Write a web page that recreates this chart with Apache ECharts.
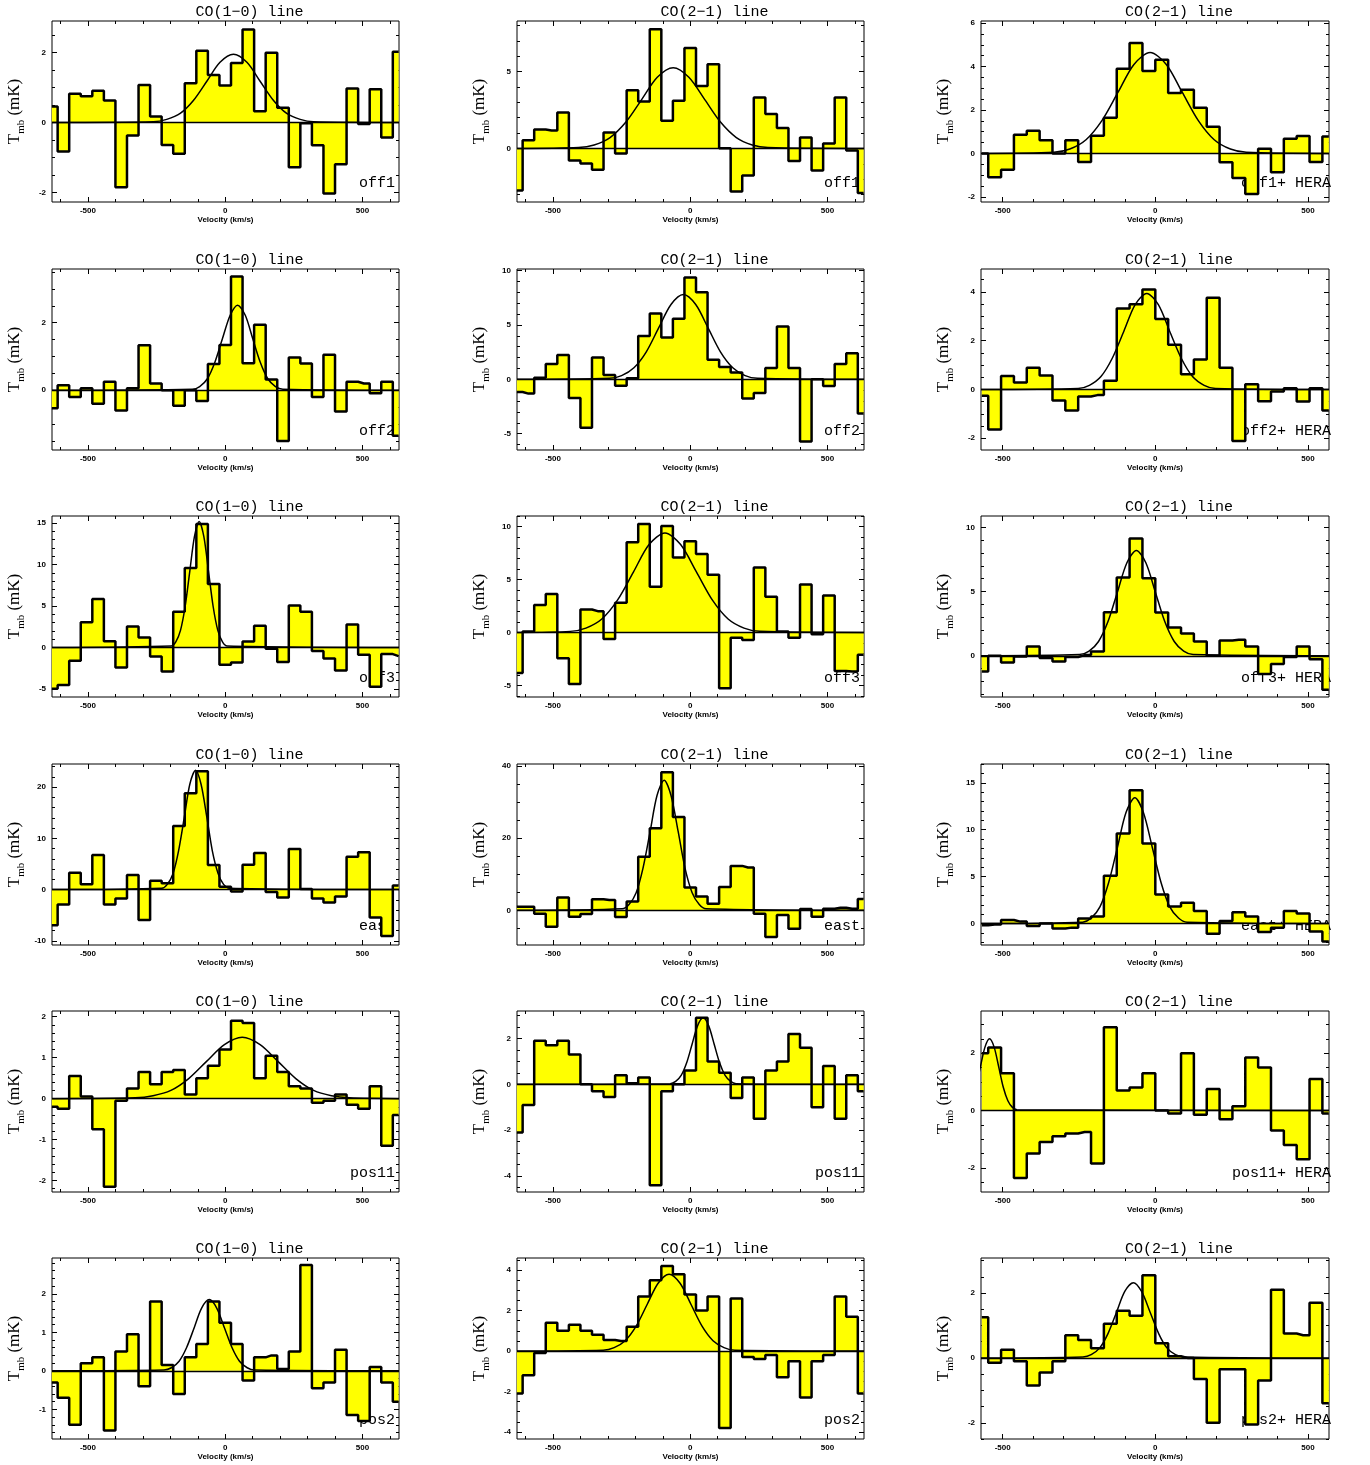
<!DOCTYPE html>
<html>
<head>
<meta charset="utf-8">
<script src="https://cdn.jsdelivr.net/npm/echarts@6/dist/echarts.min.js"></script>
<style>
  html, body { margin: 0; padding: 0; background: #fff; }
  #main { width: 1370px; height: 1465px; }
</style>
</head>
<body>
<div id="main"></div>
<script>
// channel centres (km/s), 42.1 km/s channels
const velCO = [-631.5, -589.4, -547.3, -505.2, -463.1, -421.0, -378.9, -336.8, -294.7, -252.6, -210.5,
  -168.4, -126.3, -84.2, -42.1, 0, 42.1, 84.2, 126.3, 168.4, 210.5, 252.6, 294.7, 336.8, 378.9, 421.0,
  463.1, 505.2, 547.3, 589.4, 631.5];
const velHERA = [-568.4, -526.3, -484.2, -442.1, -400.0, -357.9, -315.8, -273.7, -231.6, -189.5, -147.4,
  -105.3, -63.2, -21.1, 21.1, 63.2, 105.3, 147.4, 189.5, 231.6, 273.7, 315.8, 357.9, 400.0, 442.1, 484.2,
  526.3, 568.4];

const xTickLabels = [-500, 0, 500];

// Tmb (mK) per channel
const off1_10 = [0.46, -0.83, 0.82, 0.75, 0.91, 0.63, -1.85, -0.37, 1.07, 0.17, -0.64, -0.89, 1.12, 2.05, 1.36, 1.06, 1.70, 2.66, 0.32, 1.99, 0.42, -1.28, -0.02, -0.65, -2.03, -1.19, 0.97, -0.04, 0.95, -0.43, 2.02];
const off1_21 = [-2.73, 0.54, 1.23, 1.17, 2.34, -0.78, -0.97, -1.39, 1.04, -0.32, 3.79, 3.05, 7.75, 1.80, 3.10, 6.54, 4.07, 5.48, 0.02, -2.79, -1.75, 3.31, 2.25, 1.34, -0.82, 0.71, -1.43, 0.32, 3.31, -0.13, -2.90];
const off1_hera = [0.0, -1.10, -0.75, 0.86, 1.04, 0.61, 0.0, 0.61, -0.40, 0.81, 1.64, 3.90, 5.09, 3.80, 4.31, 2.78, 2.93, 2.10, 1.23, -0.41, -1.13, -1.87, 0.21, -0.87, 0.67, 0.80, -0.40, 0.78];
const off2_10 = [-0.53, 0.15, -0.20, 0.06, -0.40, 0.25, -0.60, 0.06, 1.33, 0.20, 0.0, -0.46, 0.0, -0.32, 0.78, 1.34, 3.37, 0.80, 1.94, 0.32, -1.50, 0.97, 0.79, -0.20, 1.05, -0.63, 0.25, 0.20, -0.09, 0.25, -1.35];
const off2_21 = [-1.16, -1.31, 0.15, 1.41, 2.23, -1.71, -4.46, 2.02, 0.40, -0.58, 0.09, 3.98, 6.06, 3.85, 5.57, 9.36, 8.01, 1.80, 1.13, 0.64, -1.77, -1.25, 1.04, 4.86, 1.04, -5.72, 0.0, -0.61, 1.41, 2.39, -3.15];
const off2_hera = [-0.26, -1.64, 0.55, 0.29, 0.89, 0.57, -0.45, -0.86, -0.29, -0.23, 0.36, 3.32, 3.50, 4.10, 2.89, 1.83, 0.63, 1.23, 3.76, 0.89, -2.11, 0.22, -0.48, -0.08, 0.05, -0.49, 0.05, -0.86];
const off3_10 = [-4.98, -4.54, -1.61, 3.05, 5.86, 0.76, -2.41, 2.53, 1.20, -1.08, -2.89, 4.30, 9.60, 14.9, 7.67, -2.09, -1.81, 0.72, 2.61, -0.16, -1.77, 5.06, 4.30, -0.44, -1.33, -2.77, 2.77, -0.88, -4.74, -0.80, -1.04];
const off3_21 = [-3.84, 0.09, 2.58, 3.62, -2.45, -4.87, 2.17, 2.01, -0.63, 2.80, 8.52, 10.25, 4.31, 10.06, 7.08, 8.62, 7.42, 5.44, -5.28, -0.50, -0.72, 6.13, 3.36, 0.09, -0.50, 4.53, -0.16, 3.49, -3.65, -3.68, -2.11];
const off3_hera = [-1.22, 0.0, -0.52, -0.05, 0.73, -0.18, -0.44, -0.10, 0.05, 0.34, 3.39, 6.09, 9.12, 6.04, 3.37, 2.20, 1.74, 1.11, 0.0, 1.19, 1.24, 0.73, -1.42, -0.65, -0.10, 0.73, -0.28, -2.64];
const east_10 = [-6.95, -2.92, 3.31, 1.04, 6.75, -2.92, -1.75, 2.86, -5.91, 1.75, 1.23, 12.4, 18.8, 23.1, 4.81, 0.58, -0.39, 4.87, 7.14, -0.45, -1.56, 7.92, 0.1, -1.75, -2.53, -1.36, 6.43, 7.27, -5.45, -9.03, 0.78];
const east_21 = [1.0, 1.0, -0.93, -4.54, 3.52, -1.76, -1.02, 3.06, 2.87, -1.85, 2.41, 14.8, 22.7, 38.2, 25.8, 6.30, 3.80, 1.85, 6.48, 12.3, 11.85, -0.93, -7.41, -1.30, -5.09, 0.37, -1.76, 0.46, 0.74, 0.46, 3.15];
const east_hera = [-0.18, -0.1, 0.39, 0.21, -0.25, 0.0, -0.53, -0.43, 0.53, 0.75, 5.09, 9.61, 14.2, 8.54, 3.10, 1.81, 2.21, 1.35, -1.07, 0.28, 1.21, 0.75, -0.89, -0.43, 1.35, 1.07, -0.85, -1.92];
const pos11_10 = [-0.2, -0.25, 0.55, 0.05, -0.75, -2.15, -0.05, 0.25, 0.65, 0.35, 0.65, 0.7, 0.1, 0.5, 0.8, 1.2, 1.9, 1.85, 0.5, 1.05, 0.65, 0.3, 0.25, -0.1, -0.05, 0.1, -0.15, -0.25, 0.3, -1.15, -0.4];
const pos11_21 = [-2.1, -0.9, 1.9, 1.7, 1.9, 1.3, 0.0, -0.3, -0.55, 0.4, 0.05, 0.3, -4.4, -0.3, 0.0, 0.6, 2.9, 1.0, 0.5, -0.6, 0.3, -1.5, 0.6, 1.0, 2.2, 1.6, -1.0, 0.8, -1.5, 0.4, -0.3];
const pos11_hera = [2.0, 2.2, 1.3, -2.35, -1.5, -1.1, -0.9, -0.8, -0.75, -1.85, 2.9, 0.7, 0.8, 1.3, 0.0, -0.1, 2.0, -0.15, 0.75, -0.3, 0.15, 1.85, 1.5, -0.7, -1.2, -1.7, 1.1, -0.1];
const pos2_10 = [-0.3, -0.7, -1.4, 0.2, 0.35, -1.55, 0.5, 0.95, -0.4, 1.8, 0.15, -0.6, 0.35, 0.7, 1.8, 1.25, 0.7, -0.25, 0.35, 0.4, 0.05, 0.5, 2.75, -0.45, -0.3, 0.55, -1.15, -1.3, 0.1, -0.3, -0.8];
const pos2_21 = [-2.1, -1.2, -0.1, 1.4, 1.0, 1.3, 1.0, 0.8, 0.55, 0.5, 1.2, 2.7, 3.5, 4.2, 3.8, 2.8, 2.0, 2.7, -3.8, 2.6, -0.3, -0.4, -0.2, -1.3, -0.5, -2.3, -0.5, -0.2, 2.7, 1.7, -2.1];
const pos2_hera = [1.25, -0.15, 0.25, -0.1, -0.85, -0.45, -0.1, 0.7, 0.55, 0.3, 1.05, 1.45, 1.3, 2.55, 0.45, 0.05, 0.0, -0.65, -2.0, -0.35, -0.35, -2.05, -0.7, 2.1, 0.75, 0.7, 1.7, -1.4];

// gaussian fits
const fitV_off1_10 = [-261, -213, -164, -116, -67, -19, 30, 79, 127, 176, 224, 273, 321];
const fitT_off1_10 = [0.02, 0.09, 0.26, 0.63, 1.18, 1.72, 1.95, 1.72, 1.18, 0.63, 0.26, 0.09, 0.02];
const fitV_off1_21 = [-407, -350, -292, -235, -177, -120, -62, -5, 53, 111, 168, 226, 283];
const fitT_off1_21 = [0.06, 0.23, 0.71, 1.70, 3.18, 4.63, 5.25, 4.63, 3.18, 1.70, 0.71, 0.23, 0.06];
const fitV_off1_hera = [-332, -280, -227, -175, -122, -70, -17, 36, 88, 141, 193, 246, 298];
const fitT_off1_hera = [0.05, 0.20, 0.63, 1.51, 2.82, 4.10, 4.65, 4.10, 2.82, 1.51, 0.63, 0.20, 0.05];
const fitV_off2_10 = [-120, -93, -65, -38, -10, 18, 45, 73, 100, 128, 155, 183, 210];
const fitT_off2_10 = [0.03, 0.11, 0.34, 0.82, 1.53, 2.22, 2.52, 2.22, 1.53, 0.82, 0.34, 0.11, 0.03];
const fitV_off2_21 = [-295, -250, -205, -160, -115, -70, -25, 20, 65, 110, 155, 200, 245];
const fitT_off2_21 = [0.09, 0.34, 1.06, 2.53, 4.73, 6.88, 7.80, 6.88, 4.73, 2.53, 1.06, 0.34, 0.09];
const fitV_off2_hera = [-253, -216, -178, -141, -103, -66, -28, 10, 47, 85, 122, 160, 197];
const fitT_off2_hera = [0.04, 0.17, 0.53, 1.28, 2.39, 3.48, 3.94, 3.48, 2.39, 1.28, 0.53, 0.17, 0.04];
const fitV_off3_10 = [-197, -180, -163, -146, -129, -112, -95, -78, -61, -44, -27, -10, 7];
const fitT_off3_10 = [0.17, 0.67, 2.06, 4.94, 9.22, 13.41, 15.2, 13.41, 9.22, 4.94, 2.06, 0.67, 0.17];
const fitV_off3_21 = [-437, -380, -322, -265, -207, -150, -92, -35, 23, 81, 138, 196, 253];
const fitT_off3_21 = [0.10, 0.41, 1.27, 3.05, 5.70, 8.30, 9.40, 8.30, 5.70, 3.05, 1.27, 0.41, 0.10];
const fitV_off3_hera = [-248, -217, -186, -155, -124, -93, -62, -31, 0, 31, 62, 93, 124];
const fitT_off3_hera = [0.09, 0.36, 1.11, 2.66, 4.97, 7.24, 8.20, 7.24, 4.97, 2.66, 1.11, 0.36, 0.09];
const fitV_east_10 = [-231, -211, -190, -170, -149, -129, -108, -88, -67, -47, -26, -6, 15];
const fitT_east_10 = [0.26, 1.02, 3.15, 7.57, 14.13, 20.56, 23.3, 20.56, 14.13, 7.57, 3.15, 1.02, 0.26];
const fitV_east_21 = [-248, -223, -197, -172, -146, -121, -95, -70, -44, -19, 7, 33, 58];
const fitT_east_21 = [0.40, 1.58, 4.87, 11.69, 21.83, 31.77, 36.0, 31.77, 21.83, 11.69, 4.87, 1.58, 0.40];
const fitV_east_hera = [-238, -210, -181, -153, -124, -96, -67, -39, -10, 19, 47, 76, 104];
const fitT_east_hera = [0.15, 0.59, 1.81, 4.35, 8.13, 11.83, 13.4, 11.83, 8.13, 4.35, 1.81, 0.59, 0.15];
const fitV_pos11_10 = [-328, -263, -198, -133, -68, -3, 62, 127, 192, 257, 322, 387, 452];
const fitT_pos11_10 = [0.02, 0.07, 0.20, 0.49, 0.91, 1.32, 1.50, 1.32, 0.91, 0.49, 0.20, 0.07, 0.02];
const fitV_pos11_21 = [-73, -53, -33, -13, 7, 27, 47, 67, 87, 107, 127, 147, 167];
const fitT_pos11_21 = [0.03, 0.13, 0.39, 0.94, 1.76, 2.56, 2.90, 2.56, 1.76, 0.94, 0.39, 0.13, 0.03];
const fitV_pos11_hera = [-633, -618, -603, -588, -573, -558, -543, -528, -513, -498, -483, -468, -453];
const fitT_pos11_hera = [0.03, 0.11, 0.34, 0.81, 1.52, 2.21, 2.50, 2.21, 1.52, 0.81, 0.34, 0.11, 0.03];
const fitV_pos2_10 = [-223, -196, -168, -141, -113, -86, -58, -31, -3, 25, 52, 80, 107];
const fitT_pos2_10 = [0.02, 0.08, 0.25, 0.60, 1.12, 1.63, 1.85, 1.63, 1.12, 0.60, 0.25, 0.08, 0.02];
const fitV_pos2_21 = [-317, -277, -237, -197, -157, -117, -77, -37, 3, 43, 83, 123, 163];
const fitT_pos2_21 = [0.04, 0.17, 0.51, 1.23, 2.30, 3.35, 3.80, 3.35, 2.30, 1.23, 0.51, 0.17, 0.04];
const fitV_pos2_hera = [-237, -210, -182, -155, -127, -100, -72, -45, -17, 11, 38, 66, 93];
const fitT_pos2_hera = [0.03, 0.10, 0.31, 0.75, 1.41, 2.05, 2.32, 2.05, 1.41, 0.75, 0.31, 0.10, 0.03];

// y tick labels
const yTicks_off1_10 = [-2, 0, 2];
const yTicks_off1_21 = [0, 5];
const yTicks_off1_hera = [-2, 0, 2, 4, 6];
const yTicks_off2_10 = [0, 2];
const yTicks_off2_21 = [-5, 0, 5, 10];
const yTicks_off2_hera = [-2, 0, 2, 4];
const yTicks_off3_10 = [-5, 0, 5, 10, 15];
const yTicks_off3_21 = [-5, 0, 5, 10];
const yTicks_off3_hera = [0, 5, 10];
const yTicks_east_10 = [-10, 0, 10, 20];
const yTicks_east_21 = [0, 20, 40];
const yTicks_east_hera = [0, 5, 10, 15];
const yTicks_pos11_10 = [-2, -1, 0, 1, 2];
const yTicks_pos11_21 = [-4, -2, 0, 2];
const yTicks_pos11_hera = [-2, 0, 2];
const yTicks_pos2_10 = [-1, 0, 1, 2];
const yTicks_pos2_21 = [-4, -2, 0, 2, 4];
const yTicks_pos2_hera = [-2, 0, 2];

const T10 = 'CO(1\u22120) line', T21 = 'CO(2\u22121) line';
const panels = [
  { title: T10, label: 'off1', data: off1_10, fv: fitV_off1_10, ft: fitT_off1_10, y: [-2.27, 2.9], yt: yTicks_off1_10, ym: 0.5 },
  { title: T21, label: 'off1', data: off1_21, fv: fitV_off1_21, ft: fitT_off1_21, y: [-3.48, 8.29], yt: yTicks_off1_21, ym: 1 },
  { title: T21, label: 'off1+ HERA', data: off1_hera, fv: fitV_off1_hera, ft: fitT_off1_hera, y: [-2.24, 6.1], yt: yTicks_off1_hera, ym: 0.5 },
  { title: T10, label: 'off2', data: off2_10, fv: fitV_off2_10, ft: fitT_off2_10, y: [-1.77, 3.59], yt: yTicks_off2_10, ym: 0.5 },
  { title: T21, label: 'off2', data: off2_21, fv: fitV_off2_21, ft: fitT_off2_21, y: [-6.5, 10.15], yt: yTicks_off2_21, ym: 1 },
  { title: T21, label: 'off2+ HERA', data: off2_hera, fv: fitV_off2_hera, ft: fitT_off2_hera, y: [-2.48, 4.94], yt: yTicks_off2_hera, ym: 0.5 },
  { title: T10, label: 'off3', data: off3_10, fv: fitV_off3_10, ft: fitT_off3_10, y: [-5.98, 15.86], yt: yTicks_off3_10, ym: 1 },
  { title: T21, label: 'off3', data: off3_21, fv: fitV_off3_21, ft: fitT_off3_21, y: [-6.1, 11.0], yt: yTicks_off3_21, ym: 1 },
  { title: T21, label: 'off3+ HERA', data: off3_hera, fv: fitV_off3_hera, ft: fitT_off3_hera, y: [-3.21, 10.88], yt: yTicks_off3_hera, ym: 1 },
  { title: T10, label: 'east', data: east_10, fv: fitV_east_10, ft: fitT_east_10, y: [-10.8, 24.5], yt: yTicks_east_10, ym: 2 },
  { title: T21, label: 'east', data: east_21, fv: fitV_east_21, ft: fitT_east_21, y: [-9.6, 40.5], yt: yTicks_east_21, ym: 5 },
  { title: T21, label: 'east+ HERA', data: east_hera, fv: fitV_east_hera, ft: fitT_east_hera, y: [-2.28, 17.0], yt: yTicks_east_hera, ym: 1 },
  { title: T10, label: 'pos11', data: pos11_10, fv: fitV_pos11_10, ft: fitT_pos11_10, y: [-2.28, 2.14], yt: yTicks_pos11_10, ym: 0.2 },
  { title: T21, label: 'pos11', data: pos11_21, fv: fitV_pos11_21, ft: fitT_pos11_21, y: [-4.7, 3.2], yt: yTicks_pos11_21, ym: 0.5 },
  { title: T21, label: 'pos11+ HERA', data: pos11_hera, fv: fitV_pos11_hera, ft: fitT_pos11_hera, y: [-2.84, 3.47], yt: yTicks_pos11_hera, ym: 0.5 },
  { title: T10, label: 'pos2', data: pos2_10, fv: fitV_pos2_10, ft: fitT_pos2_10, y: [-1.77, 2.93], yt: yTicks_pos2_10, ym: 0.2 },
  { title: T21, label: 'pos2', data: pos2_21, fv: fitV_pos2_21, ft: fitT_pos2_21, y: [-4.35, 4.6], yt: yTicks_pos2_21, ym: 0.5 },
  { title: T21, label: 'pos2+ HERA', data: pos2_hera, fv: fitV_pos2_hera, ft: fitT_pos2_hera, y: [-2.5, 3.08], yt: yTicks_pos2_hera, ym: 0.5 }
];

// layout
const colLeft = [52, 517, 981];
const colWidth = [347, 347, 348];
const rowTop = [21, 269, 516, 764, 1011, 1258];
const plotH = 181;
const xRangeCO = [-631, 633];
const xRangeHERA = [-571, 569];

function steps(a, b, s) {
  const out = [];
  for (let k = Math.ceil(a / s - 1e-9); k * s <= b + 1e-9; k++) out.push(+(k * s).toFixed(3));
  return out;
}

const tickLine = { color: '#000', width: 1 };
const tickFont = { color: '#000', fontFamily: 'Liberation Sans', fontWeight: 'bold', fontSize: 8 };
const textFont = '15px "Liberation Mono"';

const option = { animation: false, grid: [], xAxis: [], yAxis: [], series: [], graphic: [] };

panels.forEach((p, i) => {
  const col = i % 3, row = Math.floor(i / 3);
  const left = colLeft[col], top = rowTop[row], w = colWidth[col];
  const xr = col === 2 ? xRangeHERA : xRangeCO;
  const vel = col === 2 ? velHERA : velCO;
  const xMinor = steps(xr[0], xr[1], 100);
  const yMinor = steps(p.y[0], p.y[1], p.ym);

  option.grid.push({ left: left, top: top, width: w, height: plotH, show: true,
    borderColor: '#000', borderWidth: 1, backgroundColor: 'transparent' });

  const xb = { type: 'value', gridIndex: i, min: xr[0], max: xr[1], splitLine: { show: false },
    axisLine: { show: false, onZero: false }, axisLabel: { show: false } };
  option.xAxis.push(
    Object.assign({}, xb, { position: 'bottom',
      axisTick: { show: true, inside: true, length: 5, customValues: xTickLabels, lineStyle: tickLine },
      axisLabel: Object.assign({ show: true, customValues: xTickLabels, margin: 5 }, tickFont),
      name: 'Velocity (km/s)', nameLocation: 'middle', nameGap: 14, nameTextStyle: tickFont }),
    Object.assign({}, xb, { position: 'bottom',
      axisTick: { show: true, inside: true, length: 3, customValues: xMinor, lineStyle: tickLine } }),
    Object.assign({}, xb, { position: 'top',
      axisTick: { show: true, inside: true, length: 5, customValues: xTickLabels, lineStyle: tickLine } }),
    Object.assign({}, xb, { position: 'top',
      axisTick: { show: true, inside: true, length: 3, customValues: xMinor, lineStyle: tickLine } })
  );

  const yb = { type: 'value', gridIndex: i, min: p.y[0], max: p.y[1], splitLine: { show: false },
    axisLine: { show: false, onZero: false }, axisLabel: { show: false } };
  option.yAxis.push(
    Object.assign({}, yb, { position: 'left',
      axisTick: { show: true, inside: true, length: 5, customValues: p.yt, lineStyle: tickLine },
      axisLabel: Object.assign({ show: true, customValues: p.yt, margin: 6 }, tickFont),
      name: '{t|T}{s|mb}{t| (mK)}', nameLocation: 'middle', nameGap: 25, nameRotate: 90,
      nameTextStyle: { color: '#000', rich: {
        t: { fontFamily: 'Liberation Serif', fontSize: 17, lineHeight: 24, color: '#000' },
        s: { fontFamily: 'Liberation Serif', fontSize: 11, verticalAlign: 'bottom', color: '#000' } } } }),
    Object.assign({}, yb, { position: 'left',
      axisTick: { show: true, inside: true, length: 3, customValues: yMinor, lineStyle: tickLine } }),
    Object.assign({}, yb, { position: 'right',
      axisTick: { show: true, inside: true, length: 5, customValues: p.yt, lineStyle: tickLine } }),
    Object.assign({}, yb, { position: 'right',
      axisTick: { show: true, inside: true, length: 3, customValues: yMinor, lineStyle: tickLine } })
  );

  // spectrum as histogram
  option.series.push({
    type: 'line', xAxisIndex: 4 * i, yAxisIndex: 4 * i, step: 'middle', symbol: 'none',
    data: vel.map((v, j) => [v, p.data[j]]),
    lineStyle: { color: '#000', width: 2.5 },
    areaStyle: { color: '#ffff00', opacity: 1, origin: 'auto' },
    markLine: { silent: true, symbol: 'none', label: { show: false },
      lineStyle: { color: '#000', width: 1.4, type: 'solid' }, data: [{ yAxis: 0 }] },
    z: 2
  });

  // gaussian fit
  const fit = p.fv.map((v, j) => [v, p.ft[j]]);
  if (p.fv[0] > xr[0]) fit.unshift([xr[0], 0]);
  if (p.fv[p.fv.length - 1] < xr[1]) fit.push([xr[1], 0]);
  option.series.push({
    type: 'line', xAxisIndex: 4 * i, yAxisIndex: 4 * i, smooth: 0.3, symbol: 'none',
    data: fit, lineStyle: { color: '#000', width: 1.5 }, z: 3
  });

  option.graphic.push(
    { type: 'text', x: left + w / 2 + 24, y: top - 9,
      style: { text: p.title, font: textFont, fill: '#000', textAlign: 'center', textVerticalAlign: 'middle' } },
    { type: 'text', x: col === 2 ? left + w + 2 : left + w - 4, y: top + 162,
      style: { text: p.label, font: textFont, fill: '#000', textAlign: 'right', textVerticalAlign: 'middle' } }
  );
});

const chart = echarts.init(document.getElementById('main'));
chart.setOption(option);
</script>
</body>
</html>
